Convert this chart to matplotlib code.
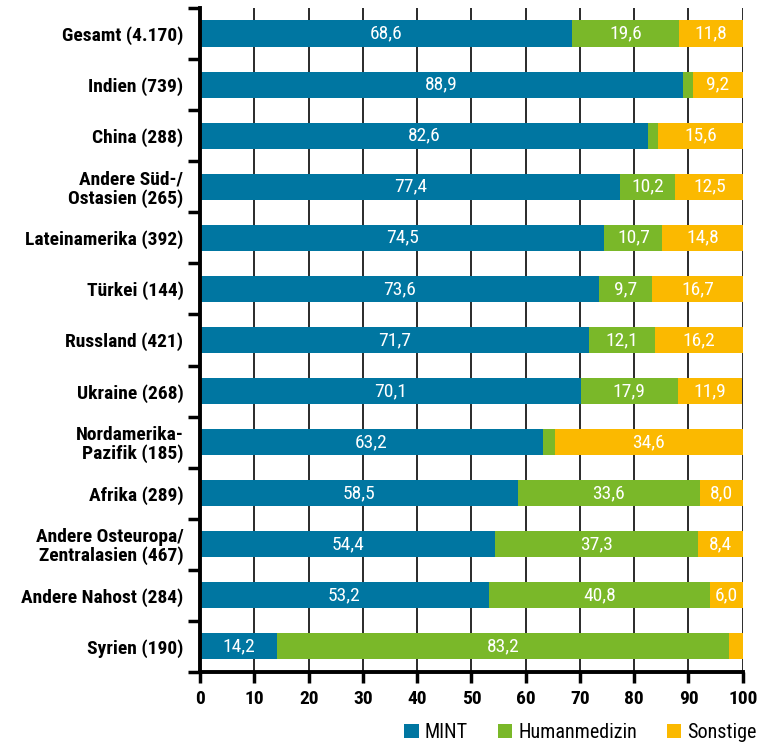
import numpy as np
import matplotlib
matplotlib.use("Agg")
import matplotlib.pyplot as plt
from matplotlib import font_manager

# data
laender = ["Gesamt (4.170)", "Indien (739)", "China (288)", "Andere Süd-/\nOstasien (265)",
           "Lateinamerika (392)", "Türkei (144)", "Russland (421)", "Ukraine (268)",
           "Nordamerika-\nPazifik (185)", "Afrika (289)", "Andere Osteuropa/\nZentralasien (467)",
           "Andere Nahost (284)", "Syrien (190)"]
mint = [68.6, 88.9, 82.6, 77.4, 74.5, 73.6, 71.7, 70.1, 63.2, 58.5, 54.4, 53.2, 14.2]
medizin = [19.6, 1.9, 1.8, 10.2, 10.7, 9.7, 12.1, 17.9, 2.2, 33.6, 37.3, 40.8, 83.2]
sonstige = [11.8, 9.2, 15.6, 12.5, 14.8, 16.7, 16.2, 11.9, 34.6, 8.0, 8.4, 6.0, 2.6]
serien = ["MINT", "Humanmedizin", "Sonstige"]
farben = ["#0076a1", "#7ab829", "#fbb900"]

available = {f.name for f in font_manager.fontManager.ttflist}
fam = [f for f in ["Roboto Condensed", "Liberation Sans Narrow", "Open Sans", "DejaVu Sans"] if f in available]
plt.rcParams["font.family"] = fam

fig = plt.figure(figsize=(7.61, 7.53), dpi=100)
ax = fig.add_axes([0.263, 0.1076, 0.713, 0.8818])

y = np.arange(len(laender))
links = np.zeros(len(laender))
for werte, name, farbe in zip([mint, medizin, sonstige], serien, farben):
    werte = np.array(werte)
    ax.barh(y, werte, left=links, height=0.51, color=farbe, label=name, zorder=2)
    for yi, l, w in zip(y, links, werte):
        if w >= 5:
            ax.text(l + w / 2, yi, f"{w:.1f}".replace(".", ","), ha="center", va="center",
                    color="white", fontsize=14, zorder=3)
    links += werte

ax.set_xlim(0, 100)
ax.set_ylim(len(laender) - 0.5, -0.5)
ax.set_xticks(np.arange(0, 101, 10))
ax.set_yticks(y)
ax.set_yticklabels(laender, fontsize=14, fontweight="bold", linespacing=1.05)
ax.set_yticks(np.arange(-0.5, len(laender), 1), minor=True)
ax.tick_params(axis="y", which="major", length=0, pad=12)
ax.tick_params(axis="y", which="minor", length=9, width=2.5, direction="out", color="black")
ax.tick_params(axis="x", length=8, width=2.5, labelsize=14, pad=5)
for lab in ax.get_xticklabels():
    lab.set_fontweight("bold")

ax.grid(axis="x", color="#2a2a2a", linewidth=1.4, zorder=0)
ax.set_axisbelow(True)
for s in ["top", "right"]:
    ax.spines[s].set_visible(False)
ax.spines["left"].set_linewidth(2.8)
ax.spines["bottom"].set_linewidth(2.8)

fig.legend(loc="lower right", bbox_to_anchor=(1.018, -0.01), ncol=3, frameon=False,
           fontsize=14.5, handlelength=0.7, handleheight=0.7, handletextpad=0.3,
           columnspacing=1.5)

fig.savefig("out.png", dpi=100)
